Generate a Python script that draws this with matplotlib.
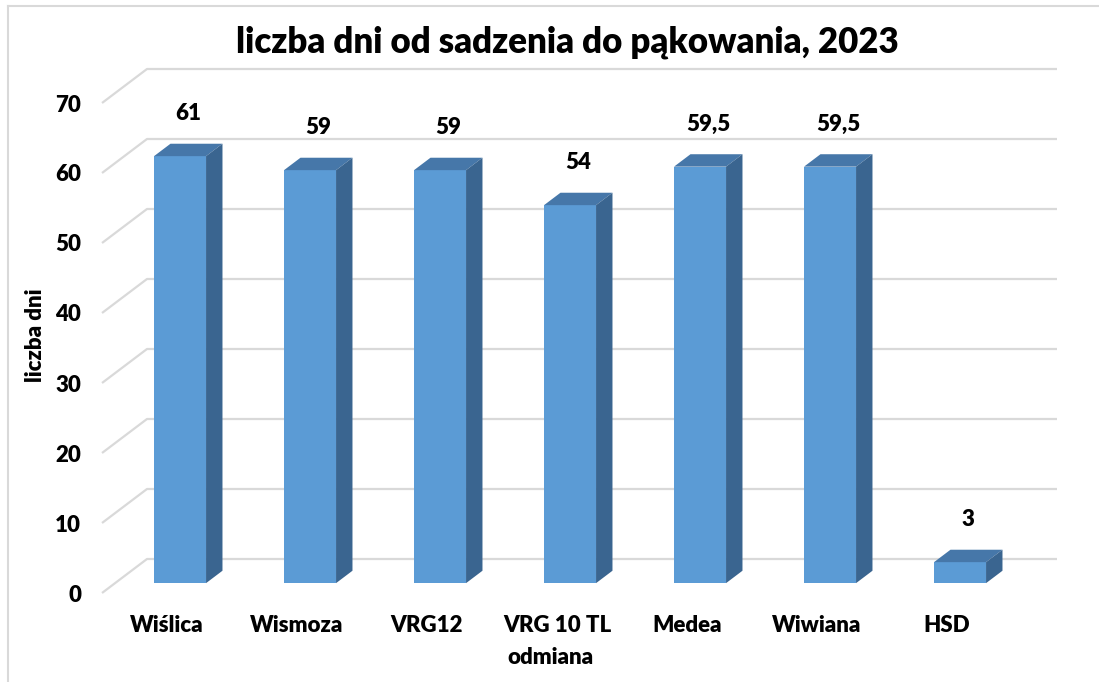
import matplotlib
matplotlib.use("Agg")
import matplotlib.pyplot as plt
from matplotlib.patches import Polygon
from matplotlib.lines import Line2D

categories = ["Wiślica", "Wismoza", "VRG12", "VRG 10 TL", "Medea", "Wiwiana", "HSD"]
values = [61, 59, 59, 54, 59.5, 59.5, 3]
value_labels = ["61", "59", "59", "54", "59,5", "59,5", "3"]
yticks = [0, 10, 20, 30, 40, 50, 60, 70]
title = "liczba dni od sadzenia do pąkowania, 2023"
xlabel = "odmiana"
ylabel = "liczba dni"

plt.rcParams['font.family'] = ['Lato', 'DejaVu Sans']
FW = 'heavy'

W, H = 1099, 682
fig = plt.figure(figsize=(W / 100, H / 100), dpi=100)

# oblique projection offsets for full depth (in data units)
OX = 45 / 130
OY = 34 / 7
D0, D1 = 0.29, 0.655
BW = 0.4
n = len(categories)

ax = fig.add_axes([102 / W, 89 / H, 955 / W, 525 / H])
ax.set_xlim(0, n + OX)
ax.set_ylim(0, 75)
for s in ax.spines.values():
    s.set_visible(False)

grid_c = "#d9d9d9"
for v in yticks:
    ax.plot([0, OX, n + OX], [v, v + OY, v + OY], color=grid_c, lw=1.6,
            clip_on=False, zorder=1, solid_capstyle='butt')

front_c = "#5b9bd5"
top_c = "#4677a9"
side_c = "#3a6590"

for i, v in enumerate(values):
    xl = i + 0.5 - BW / 2
    xr = xl + BW
    ax.bar(xl + D0 * OX, v, width=BW, bottom=D0 * OY, align='edge',
           color=front_c, edgecolor='none', zorder=3)
    top = Polygon([(xl + D0 * OX, v + D0 * OY), (xr + D0 * OX, v + D0 * OY),
                   (xr + D1 * OX, v + D1 * OY), (xl + D1 * OX, v + D1 * OY)],
                  closed=True, facecolor=top_c, edgecolor='none', zorder=3)
    side = Polygon([(xr + D0 * OX, D0 * OY), (xr + D0 * OX, v + D0 * OY),
                    (xr + D1 * OX, v + D1 * OY), (xr + D1 * OX, D1 * OY)],
                   closed=True, facecolor=side_c, edgecolor='none', zorder=3)
    ax.add_patch(top)
    ax.add_patch(side)
    dm = (D0 + D1) / 2
    ax.text(i + 0.5 + dm * OX, v + D0 * OY + 6.1, value_labels[i],
            ha='center', va='center', fontsize=16, fontweight=FW, zorder=4)

ax.set_yticks(yticks)
ax.set_yticklabels([str(t) for t in yticks], fontsize=16, fontweight=FW)
ax.set_xticks([i + 0.5 for i in range(n)])
ax.set_xticklabels(categories, fontsize=16, fontweight=FW)
ax.tick_params(axis='y', length=0, pad=15)
ax.tick_params(axis='x', length=0, pad=16)

fig.text(550 / W, 1 - 658 / H, xlabel, ha='center', va='center',
         fontsize=16, fontweight=FW)
fig.text(36 / W, 1 - 335 / H, ylabel, ha='center', va='center', rotation=90,
         fontsize=16, fontweight=FW)
fig.text(567 / W, 1 - 42 / H, title, ha='center', va='center',
         fontsize=25, fontweight=FW)

# chart area border (left and top)
fig.add_artist(Line2D([7.5 / W, 7.5 / W], [0, 1 - 6 / H], transform=fig.transFigure,
                      color="#d9d9d9", lw=1.5))
fig.add_artist(Line2D([7.5 / W, 1], [1 - 6 / H, 1 - 6 / H], transform=fig.transFigure,
                      color="#d9d9d9", lw=1.5))

fig.savefig("out.png", dpi=100)
